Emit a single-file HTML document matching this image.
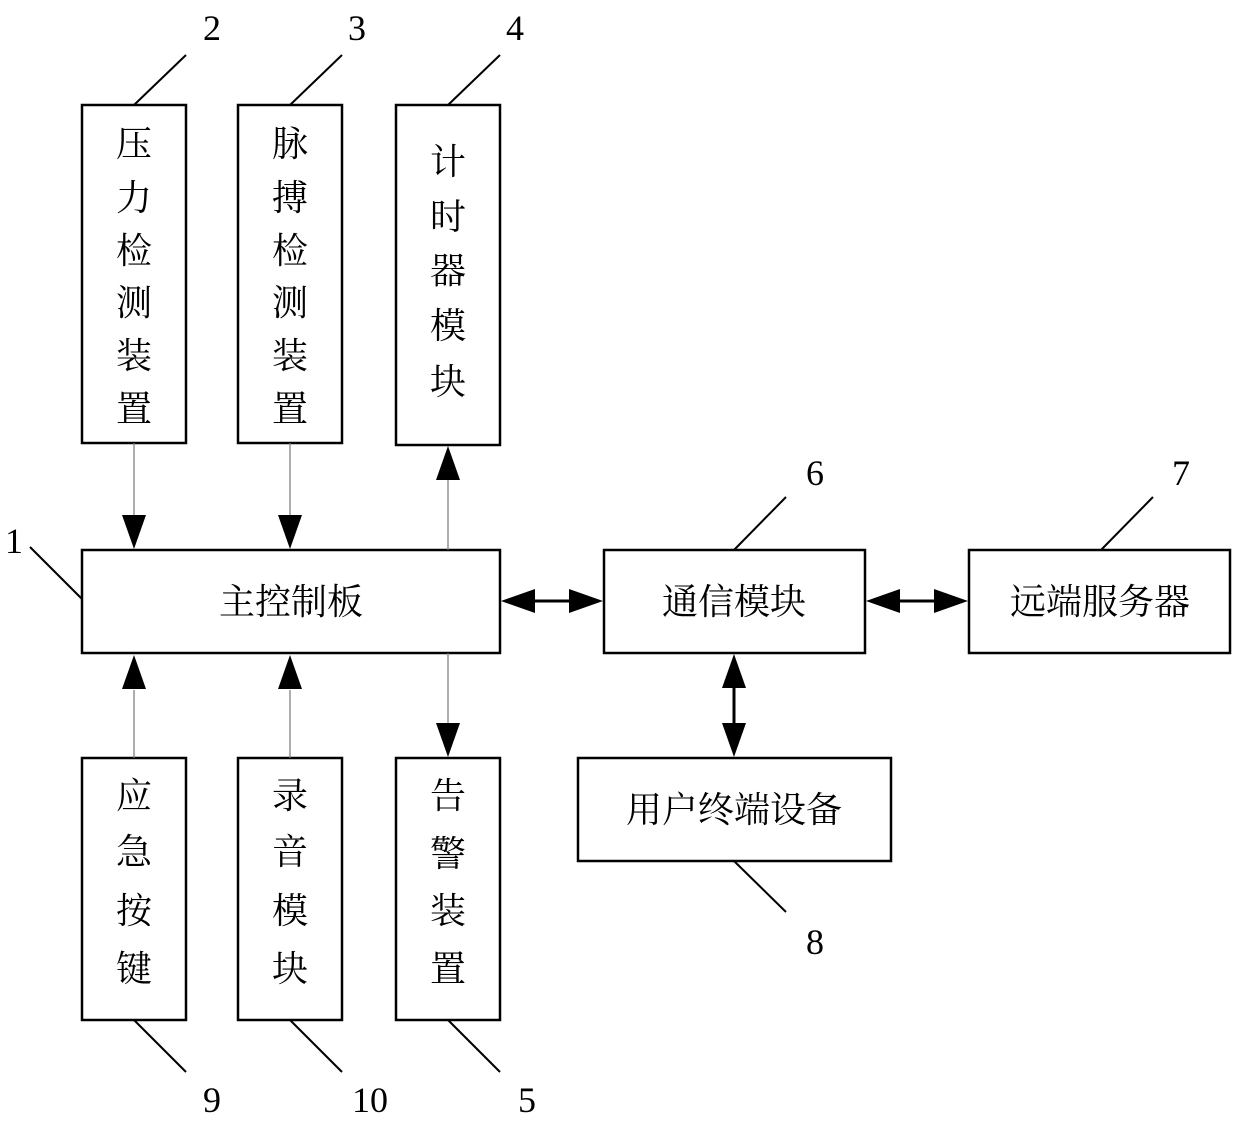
<!DOCTYPE html>
<html><head><meta charset="utf-8"><style>
html,body{margin:0;padding:0;background:#fff}
svg{display:block}
text{font-family:"Liberation Serif","Noto Serif CJK SC","Noto Sans CJK SC",serif;fill:#000}
</style></head><body>
<svg width="1240" height="1122" viewBox="0 0 1240 1122" xmlns="http://www.w3.org/2000/svg">
<g fill="none" stroke="#000" stroke-width="2.5">
<rect x="82" y="105" width="104" height="338"/>
<rect x="238" y="105" width="104" height="338"/>
<rect x="396" y="105" width="104" height="340"/>
<rect x="82" y="550" width="418" height="103"/>
<rect x="604" y="550" width="261" height="103"/>
<rect x="969" y="550" width="261" height="103"/>
<rect x="578" y="758" width="313" height="103"/>
<rect x="82" y="758" width="104" height="262"/>
<rect x="238" y="758" width="104" height="262"/>
<rect x="396" y="758" width="104" height="262"/>
</g>
<g stroke="#000" stroke-width="2" fill="none">
<line x1="186" y1="55" x2="134" y2="105"/>
<line x1="342" y1="55" x2="290" y2="105"/>
<line x1="500" y1="55" x2="448" y2="105"/>
<line x1="30" y1="547" x2="82" y2="599"/>
<line x1="786" y1="497" x2="734" y2="550"/>
<line x1="1153" y1="497" x2="1101" y2="550"/>
<line x1="734" y1="861" x2="786" y2="912"/>
<line x1="134" y1="1020" x2="186" y2="1072"/>
<line x1="290" y1="1020" x2="342" y2="1072"/>
<line x1="448" y1="1020" x2="500" y2="1072"/>
</g>
<g stroke="#777" stroke-width="1.2">
<line x1="134" y1="443" x2="134" y2="520"/>
<line x1="290" y1="443" x2="290" y2="520"/>
<line x1="448" y1="478" x2="448" y2="550"/>
<line x1="448" y1="653" x2="448" y2="725"/>
<line x1="134" y1="690" x2="134" y2="758"/>
<line x1="290" y1="690" x2="290" y2="758"/>
</g>
<g stroke="#000" stroke-width="3">
<line x1="530" y1="601" x2="575" y2="601"/>
<line x1="895" y1="601" x2="940" y2="601"/>
<line x1="734" y1="683" x2="734" y2="728"/>
</g>
<g fill="#000">
<polygon points="122,515 146,515 134,549"/>
<polygon points="278,515 302,515 290,549"/>
<polygon points="436,480 460,480 448,446"/>
<polygon points="436,723 460,723 448,757"/>
<polygon points="122,689 146,689 134,655"/>
<polygon points="278,689 302,689 290,655"/>
<polygon points="501,601 535,589 535,613"/>
<polygon points="603,601 569,589 569,613"/>
<polygon points="866,601 900,589 900,613"/>
<polygon points="968,601 934,589 934,613"/>
<polygon points="734,654 722,688 746,688"/>
<polygon points="734,757 722,723 746,723"/>
</g>
<g font-size="36" text-anchor="middle">
<text x="134" y="156">压</text><text x="134" y="210">力</text><text x="134" y="263">检</text><text x="134" y="315">测</text><text x="134" y="368">装</text><text x="134" y="421">置</text>
<text x="290" y="156">脉</text><text x="290" y="210">搏</text><text x="290" y="263">检</text><text x="290" y="315">测</text><text x="290" y="368">装</text><text x="290" y="421">置</text>
<text x="448" y="174">计</text><text x="448" y="229">时</text><text x="448" y="283">器</text><text x="448" y="338">模</text><text x="448" y="394">块</text>
<text x="134" y="808">应</text><text x="134" y="864">急</text><text x="134" y="923">按</text><text x="134" y="981">键</text>
<text x="290" y="808">录</text><text x="290" y="864">音</text><text x="290" y="923">模</text><text x="290" y="981">块</text>
<text x="448" y="808">告</text><text x="448" y="866">警</text><text x="448" y="923">装</text><text x="448" y="981">置</text>
<text x="291" y="614">主控制板</text>
<text x="734" y="614">通信模块</text>
<text x="1100" y="614">远端服务器</text>
<text x="734" y="822">用户终端设备</text>
</g>
<g font-size="36" text-anchor="middle">
<text x="212" y="40">2</text><text x="357" y="40">3</text><text x="515" y="40">4</text>
<text x="14" y="553">1</text><text x="815" y="485">6</text><text x="1181" y="485">7</text>
<text x="815" y="954">8</text><text x="212" y="1112">9</text><text x="370" y="1112">10</text><text x="527" y="1112">5</text>
</g>
</svg>
</body></html>
